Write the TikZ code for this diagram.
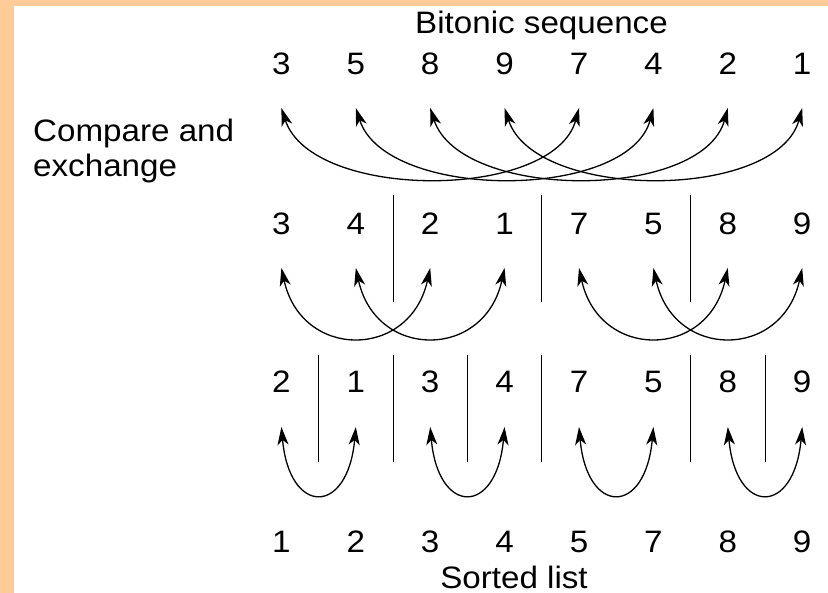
\documentclass[tikz,border=0pt]{standalone}
\usepackage{fontspec}
\setmainfont[FakeStretch=1.07]{Liberation Sans}
\usetikzlibrary{arrows.meta}
\definecolor{peach}{HTML}{FFCC99}
\begin{document}
\begin{tikzpicture}[x=1pt,y=-1pt,
  num/.style={anchor=base, inner sep=0pt, font=\fontsize{31}{37}\selectfont},
  lbl/.style={inner sep=0pt, font=\fontsize{31}{37}\selectfont},
  sepline/.style={line width=1pt},
  cx/.style={line width=1.3pt, {Stealth[length=18pt,width=11pt,inset=5pt]}-{Stealth[length=18pt,width=11pt,inset=5pt]}}]
\fill[peach] (0,0) rectangle (828,593);
\fill[white] (14,6) rectangle (828,593);
\useasboundingbox (0,0) rectangle (828,593);
% labels
\node[lbl, anchor=base] (title) at (541.5,34) {Bitonic sequence};
\node[lbl, anchor=base] (sorted) at (514,588) {Sorted list};
\node[lbl, anchor=base west] (cmpa) at (33,142) {Compare and};
\node[lbl, anchor=base west] (cmpb) at (33,177) {exchange};
% rows of numbers
\foreach \v [count=\i] in {3,5,8,9,7,4,2,1} \node[num] (a\i) at ({207+74.4*\i},75) {\v};
\foreach \v [count=\i] in {3,4,2,1,7,5,8,9} \node[num] (b\i) at ({207+74.4*\i},235) {\v};
\foreach \v [count=\i] in {2,1,3,4,7,5,8,9} \node[num] (c\i) at ({207+74.4*\i},393) {\v};
\foreach \v [count=\i] in {1,2,3,4,5,7,8,9} \node[num] (d\i) at ({207+74.4*\i},552) {\v};
% arrow tips
\foreach \i in {1,...,8} {
  \coordinate (ta\i) at ({207+74.4*\i},108);
  \coordinate (tb\i) at ({207+74.4*\i},268);
  \coordinate (tc\i) at ({207+74.4*\i},427);
}
% separators
\foreach \k in {2,4,6} \draw[sepline] ({207+74.4*(\k+0.5)},195) -- ({207+74.4*(\k+0.5)},302);
\foreach \k in {1,2,3,4,6,7} \draw[sepline] ({207+74.4*(\k+0.5)},355) -- ({207+74.4*(\k+0.5)},462);
% compare-exchange arrows, stage 1
\foreach \i in {1,...,4} {
  \pgfmathtruncatemacro\j{\i+4}
  \draw[cx] (ta\i) .. controls ([shift={(30,93)}]ta\i) and ([shift={(-25,93)}]ta\j) .. (ta\j);
}
% stage 2
\foreach \i/\j in {1/3,2/4,5/7,6/8}
  \draw[cx] (tb\i) .. controls ([shift={(20,92)}]tb\i) and ([shift={(-20,92)}]tb\j) .. (tb\j);
% stage 3
\foreach \i/\j in {1/2,3/4,5/6,7/8}
  \draw[cx] (tc\i) .. controls ([shift={(8,89)}]tc\i) and ([shift={(-8,89)}]tc\j) .. (tc\j);
\end{tikzpicture}
\end{document}
